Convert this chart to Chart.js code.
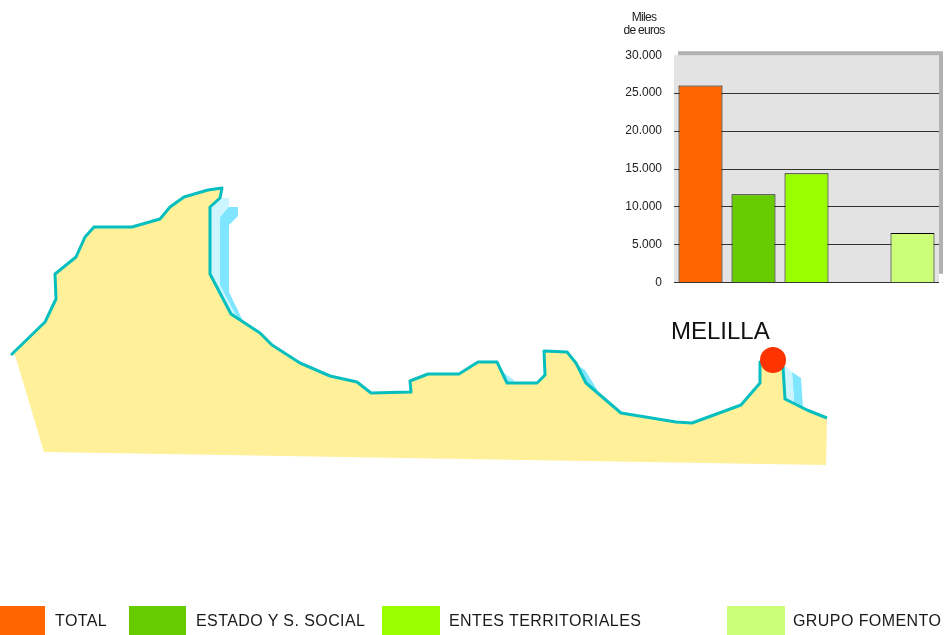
<!DOCTYPE html>
<html>
<head>
<meta charset="utf-8">
<script src="https://cdn.jsdelivr.net/npm/chart.js@4"></script>
<style>
html,body{margin:0;padding:0;background:#fff;width:945px;height:635px;overflow:hidden}
body{position:relative;font-family:"Liberation Sans",Arial,sans-serif;color:#1a1a1a}
canvas{position:absolute;display:block}
#map{left:0;top:0}
#bars{left:610px;top:36px}
.t{position:absolute;white-space:nowrap}
#unit{left:609px;width:70px;top:11px;font-size:12px;line-height:13px;letter-spacing:-.7px;text-align:center}
#place{left:671px;top:317px;font-size:24px;line-height:28px;color:#111}
.sw{position:absolute;top:606px;height:29px}
.lb{position:absolute;top:612px;font-size:16px;line-height:18px;letter-spacing:.42px;white-space:nowrap}
</style>
</head>
<body>
<canvas id="map" width="945" height="635"></canvas>
<canvas id="bars" width="335" height="266"></canvas>
<div class="t" id="unit">Miles<br>de euros</div>
<div class="t" id="place">MELILLA</div>
<div id="legend"></div>
<script>
// ---- bar chart data ----
const categories = ['TOTAL', 'ESTADO Y S. SOCIAL', 'ENTES TERRITORIALES', '', 'GRUPO FOMENTO'];
const amounts = [26000, 11670, 14445, null, 6565];
const barColors = ['#FF6600', '#66CC00', '#99FF00', '#FFFFFF', '#CCFF77'];
const tickValues = [0, 5000, 10000, 15000, 20000, 25000, 30000];

// ---- map outline, read in picture units ----
const coastX = [11,45,56,55,76,85,94,132,160,170,184,208,222,220,210,210,231,260,272,300,330,357,371,411,410,428,459,478,497,507,537,545,544,567,576,586,621,676,692,741,760,760,783,785,807,827];
const coastY = [355,322,299,274,257,237,227,227,219,207,197,190,188,198,207,274,314,333,345,363,376,382,393,392,381,374,374,362,362,383,383,375,351,352,363,383,413,422,423,405,383,362,367,399,410,418];
const landEdgeX = [826,44,15];
const landEdgeY = [465,452,355];
const shadeDarkAX = [220,228,238,238,229,229,243,231,220];
const shadeDarkAY = [217,207,207,216,225,292,321,316,290];
const shadeLightAX = [210,220,229,229,220,220,238,231,210];
const shadeLightAY = [207,198,198,207,217,285,319,316,274];
const shadeDarkBX = [792,801,803,794];
const shadeDarkBY = [372,378,408,403];
const shadeLightBX = [784,792,794,785];
const shadeLightBY = [365,372,403,399];
const shadeDarkCX = [579,585,598,586];
const shadeDarkCY = [366,370,391,383];
const shadeDarkDX = [497,503,515,507];
const shadeDarkDY = [364,372,381,383];
const markerX = [773];
const markerY = [360];

const pts = (xs, ys) => xs.map((x, i) => ({x, y: ys[i]}));
const polygon = (xs, ys, color, order) => ({
  data: pts(xs, ys), closedFill: color, order,
  showLine: false, pointRadius: 0
});

// fills each closed outline through the points the library has placed on its scales
const closedFillPlugin = {
  id: 'closedFill',
  beforeDatasetDraw(chart, args) {
    const ds = chart.data.datasets[args.index];
    if (!ds.closedFill) return;
    const {ctx} = chart;
    ctx.save();
    ctx.beginPath();
    args.meta.data.forEach((p, i) => i ? ctx.lineTo(p.x, p.y) : ctx.moveTo(p.x, p.y));
    ctx.closePath();
    ctx.fillStyle = ds.closedFill;
    ctx.fill();
    ctx.restore();
  }
};

new Chart(document.getElementById('map'), {
  type: 'scatter',
  plugins: [closedFillPlugin],
  data: {datasets: [
    polygon(shadeDarkAX, shadeDarkAY, '#80E5FF', 9),
    polygon(shadeLightAX, shadeLightAY, '#CCF5FF', 8),
    polygon(shadeDarkBX, shadeDarkBY, '#80E5FF', 9),
    polygon(shadeLightBX, shadeLightBY, '#CCF5FF', 8),
    polygon(shadeDarkCX, shadeDarkCY, '#80E5FF', 9),
    polygon(shadeDarkDX, shadeDarkDY, '#A6EDFF', 9),
    polygon(coastX.concat(landEdgeX), coastY.concat(landEdgeY), '#FFF099', 5),
    {data: pts(coastX, coastY), showLine: true, fill: false, borderColor: '#05BFBF', borderWidth: 3,
     borderJoinStyle: 'round', tension: 0, pointRadius: 0, order: 2},
    {data: pts(markerX, markerY), showLine: false, pointRadius: 13, pointHoverRadius: 13,
     pointBackgroundColor: '#FF3300', pointBorderWidth: 0, order: 1}
  ]},
  options: {
    responsive: false, animation: false, devicePixelRatio: 1,
    layout: {padding: 0, autoPadding: false},
    plugins: {legend: {display: false}, tooltip: {enabled: false}},
    scales: {
      x: {type: 'linear', min: 0, max: 945, display: false},
      y: {type: 'linear', min: 0, max: 635, reverse: true, display: false}
    }
  }
});

const panelPlugin = {
  id: 'panel',
  beforeDraw(chart) {
    const {ctx, chartArea: a} = chart;
    ctx.save();
    ctx.fillStyle = '#B2B2B2';
    ctx.fillRect(a.left + 4, a.top - 4, a.width, a.height - 5);
    ctx.fillStyle = '#E3E3E3';
    ctx.fillRect(a.left, a.top, a.width, a.height);
    ctx.restore();
  }
};

new Chart(document.getElementById('bars'), {
  type: 'bar',
  plugins: [panelPlugin],
  data: {labels: categories, datasets: [{
    data: amounts, backgroundColor: barColors, borderColor: '#000', borderWidth: 1,
    barPercentage: 0.83, categoryPercentage: 1
  }]},
  options: {
    responsive: false, animation: false, devicePixelRatio: 1,
    layout: {padding: {left: 0, top: 10, right: 6, bottom: 10}, autoPadding: false},
    plugins: {legend: {display: false}, tooltip: {enabled: false}},
    scales: {
      x: {display: false},
      y: {
        min: 0, max: 30000,
        afterBuildTicks(axis) { axis.ticks = tickValues.map(value => ({value})); },
        afterFit(axis) { axis.width = 64; },
        border: {display: false},
        grid: {
          color: c => c.tick && c.tick.value === 30000 ? 'rgba(0,0,0,0)' : '#333',
          lineWidth: 1, drawTicks: false
        },
        ticks: {
          padding: 12, color: '#222',
          font: {family: '"Liberation Sans", Arial, sans-serif', size: 12},
          callback: v => String(v).replace(/\B(?=(\d{3})+$)/g, '.')
        }
      }
    }
  }
});

// ---- legend ----
const swatchLefts = [0, 129, 382, null, 727];
const swatchWidths = [45, 57, 58, null, 58];
const labelLefts = [55, 196, 449, null, 793];
const legend = document.getElementById('legend');
categories.forEach((name, i) => {
  if (!name) return;
  const s = document.createElement('div');
  s.className = 'sw';
  s.style.left = swatchLefts[i] + 'px';
  s.style.width = swatchWidths[i] + 'px';
  s.style.background = barColors[i];
  const l = document.createElement('div');
  l.className = 'lb';
  l.style.left = labelLefts[i] + 'px';
  l.textContent = name;
  legend.append(s, l);
});
</script>
</body>
</html>
